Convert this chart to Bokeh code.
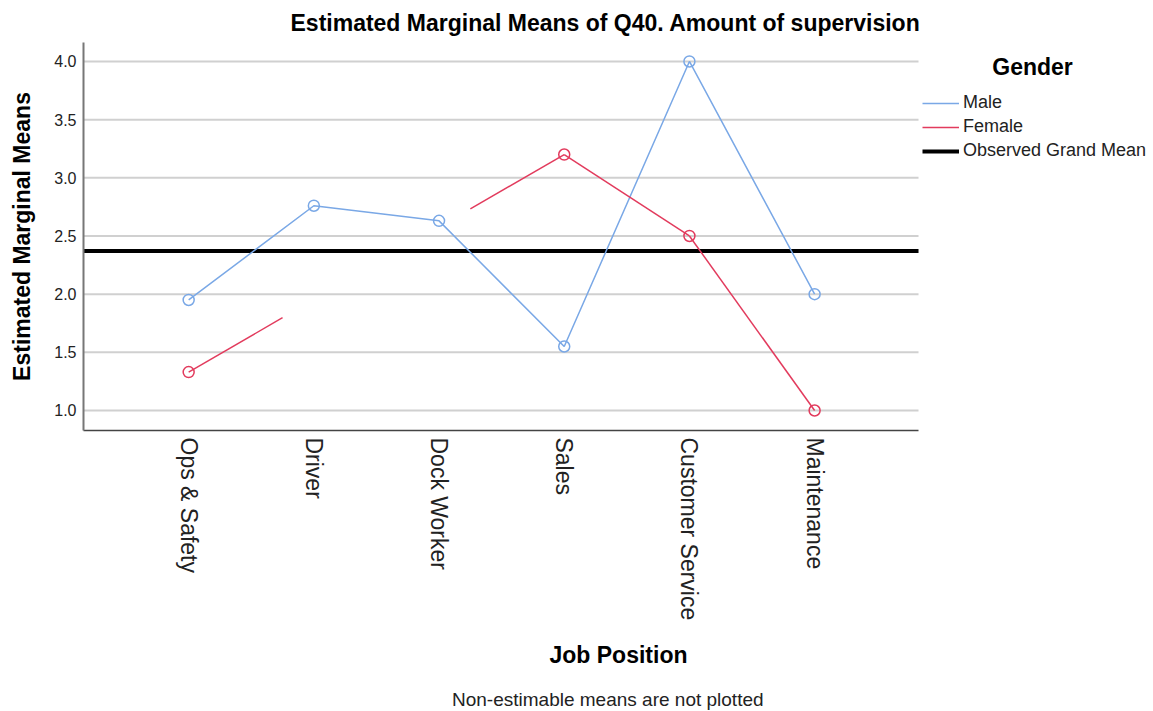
import math
import numpy as np
from bokeh.plotting import figure
from bokeh.layouts import column
from bokeh.models import Range1d, Legend, LegendItem, FixedTicker, NumeralTickFormatter, Div
from bokeh.embed import file_html
from bokeh.resources import INLINE

# ---- data ----
categories = ["Ops & Safety", "Driver", "Dock Worker", "Sales", "Customer Service", "Maintenance"]
male = [1.95, 2.76, 2.63, 1.55, 4.00, 2.00]
female = [1.33, None, None, 3.20, 2.50, 1.00]
grand_mean = 2.37
y_ticks = [1.0, 1.5, 2.0, 2.5, 3.0, 3.5, 4.0]

MALE_C = "#7aa8e6"
FEMALE_C = "#e23b5d"
FONT = "Liberation Sans"

xs = list(range(len(categories)))

# plotting area (axis/grid extent) and extra room on the right for the legend
X0, X1 = -0.84, 5.83
X_LEGEND_ROOM = 1.877

p = figure(width=1153, height=681, output_backend="svg", toolbar_location=None,
           x_range=Range1d(X0, X1 + X_LEGEND_ROOM), y_range=Range1d(0.828, 4.163),
           min_border_left=83, min_border_right=0, min_border_top=42, min_border_bottom=251)
p.outline_line_color = None
p.background_fill_color = "white"
p.border_fill_color = "white"

# title
p.title.text = "Estimated Marginal Means of Q40. Amount of supervision"
p.title.text_font = FONT
p.title.text_font_size = "23px"
p.title.text_font_style = "bold"
p.title.text_color = "black"
p.title.align = "left"
p.title.offset = 207
p.title.standoff = 14

# grid: horizontal lines at the y ticks, limited to the plotting area
p.xgrid.visible = False
p.ygrid.visible = False
p.segment(x0=[X0] * len(y_ticks), x1=[X1] * len(y_ticks), y0=y_ticks, y1=y_ticks,
          line_color="#d0d0d0", line_width=2)

# y axis
p.yaxis.ticker = FixedTicker(ticks=y_ticks)
p.yaxis.formatter = NumeralTickFormatter(format="0.0")
p.yaxis.axis_label = "Estimated Marginal Means"
p.yaxis.axis_label_text_font = FONT
p.yaxis.axis_label_text_font_size = "23px"
p.yaxis.axis_label_text_font_style = "bold"
p.yaxis.axis_label_text_color = "black"
p.yaxis.axis_label_standoff = 16
p.yaxis.major_label_text_font = FONT
p.yaxis.major_label_text_font_size = "16px"
p.yaxis.major_label_text_color = "#222222"
p.yaxis.major_label_standoff = 7
p.yaxis.major_tick_out = 0
p.yaxis.major_tick_in = 0
p.yaxis.minor_tick_out = 0
p.yaxis.minor_tick_in = 0
p.yaxis.axis_line_color = "#777777"
p.yaxis.axis_line_width = 2

# x axis
p.xaxis.ticker = FixedTicker(ticks=xs)
p.xaxis.bounds = (X0, X1)
p.xaxis.major_label_overrides = {i: c for i, c in zip(xs, categories)}
p.xaxis.major_label_orientation = -math.pi / 2
p.xaxis.major_label_text_font = FONT
p.xaxis.major_label_text_font_size = "23px"
p.xaxis.major_label_text_color = "#222222"
p.xaxis.major_label_standoff = 7
p.xaxis.axis_label = "Job Position"
p.xaxis.axis_label_text_font = FONT
p.xaxis.axis_label_text_font_size = "23px"
p.xaxis.axis_label_text_font_style = "bold"
p.xaxis.axis_label_text_color = "black"
p.xaxis.axis_label_standoff = 19
p.xaxis.major_tick_out = 0
p.xaxis.major_tick_in = 0
p.xaxis.minor_tick_out = 0
p.xaxis.minor_tick_in = 0
p.xaxis.axis_line_color = "#444444"
p.xaxis.axis_line_width = 1.5

# grand mean line across the plotting area
gm = p.line([X0, X1], [grand_mean, grand_mean], line_color="black", line_width=4)

# male series
male_line = p.line(xs, male, line_color=MALE_C, line_width=1.5)
p.scatter(xs, male, marker="circle", size=11, line_color=MALE_C, line_width=1.5, fill_alpha=0)

# female series: full segments between neighbours, partial stubs across gaps
f = np.array([np.nan if v is None else v for v in female], dtype=float)
valid = [i for i in xs if not np.isnan(f[i])]
seg_xs, seg_ys = [], []
stub = 0.75
for a, b in zip(valid[:-1], valid[1:]):
    if b - a == 1:
        seg_xs.append([a, b])
        seg_ys.append([f[a], f[b]])
    else:
        slope = (f[b] - f[a]) / (b - a)
        seg_xs.append([a, a + stub])
        seg_ys.append([f[a], f[a] + slope * stub])
        seg_xs.append([b - stub, b])
        seg_ys.append([f[b] - slope * stub, f[b]])
female_line = p.multi_line(seg_xs, seg_ys, line_color=FEMALE_C, line_width=1.5)
p.scatter([xs[i] for i in valid], [f[i] for i in valid], marker="circle", size=11,
          line_color=FEMALE_C, line_width=1.5, fill_alpha=0)

# legend to the right of the plotting area
legend = Legend(items=[LegendItem(label="Male", renderers=[male_line]),
                       LegendItem(label="Female", renderers=[female_line]),
                       LegendItem(label="Observed Grand Mean", renderers=[gm])],
                location=(839, 269))
legend.title = "\u00a0" * 11 + "Gender"
legend.title_text_font = FONT
legend.title_text_font_size = "23px"
legend.title_text_font_style = "bold"
legend.title_text_color = "black"
legend.title_standoff = 11
legend.label_text_font = FONT
legend.label_text_font_size = "18px"
legend.label_text_color = "#222222"
legend.border_line_alpha = 0
legend.background_fill_alpha = 0
legend.padding = 0
legend.margin = 0
legend.spacing = 3
legend.label_height = 20
legend.glyph_height = 20
legend.glyph_width = 37
legend.label_standoff = 4
p.add_layout(legend, "center")

# footnote below the chart
foot = Div(text="Non-estimable means are not plotted", width=1153, height=30, margin=0,
           styles={"font-family": FONT, "font-size": "19px", "color": "#222222",
                   "padding-left": "452px", "padding-top": "8px", "line-height": "22px",
                   "white-space": "nowrap"})

layout = column(p, foot, spacing=0)
open("out.html", "w").write(file_html(layout, INLINE))
